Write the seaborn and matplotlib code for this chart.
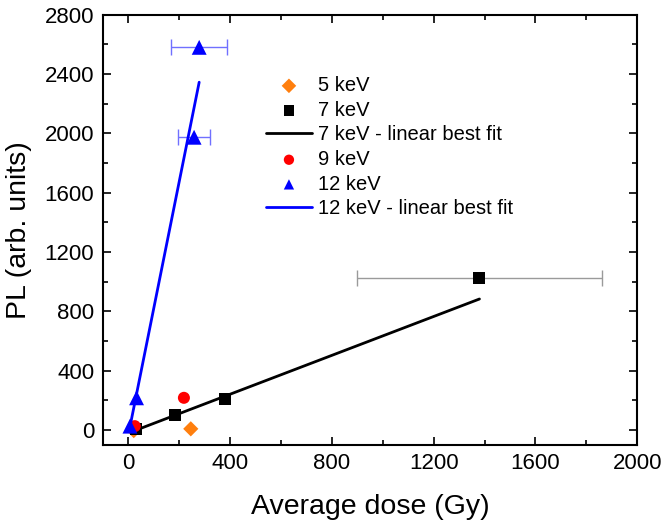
import matplotlib
matplotlib.use("Agg")
import matplotlib.pyplot as plt
import seaborn as sns
import pandas as pd
from matplotlib.ticker import MultipleLocator

# ---- data ----
kev5_x = [22, 246]
kev5_y = [-3, 9]

kev7_x = [30, 184, 381, 1380]
kev7_y = [9, 101, 211, 1023]
kev7_xerr = [0, 0, 0, 481]

fit7_x = [20, 1380]
fit7_y = [-7, 884]

kev9_x = [26, 219]
kev9_y = [27, 218]

kev12_x = [7, 33, 259, 279]
kev12_y = [27, 218, 1974, 2580]
kev12_xerr = [0, 0, 62, 111]

fit12_x = [5, 279]
fit12_y = [5, 2345]

sns.set_theme(style="ticks")
plt.rcParams['font.family'] = ['Liberation Sans', 'DejaVu Sans']
plt.rcParams['text.color'] = 'black'

fig = plt.figure(figsize=(6.64, 5.26), dpi=100)
ax = fig.add_axes([102.7/664, 1-445/526, (637.3-102.7)/664, (445-14.7)/526])

# error bars
ax.errorbar(kev7_x[3:], kev7_y[3:], xerr=kev7_xerr[3:], fmt='none',
            ecolor='#9a9a9a', elinewidth=1, capsize=5.5, capthick=1, zorder=1)
ax.errorbar(kev12_x[2:], kev12_y[2:], xerr=kev12_xerr[2:], fmt='none',
            ecolor='#7070ff', elinewidth=1, capsize=5.5, capthick=1, zorder=1)

ms = 75
sns.scatterplot(x=kev5_x, y=kev5_y, marker='D', color='#ff7f0e', s=60,
                edgecolor='none', label='5 keV', ax=ax, zorder=3)
sns.scatterplot(x=kev7_x, y=kev7_y, marker='s', color='black', s=ms,
                edgecolor='none', label='7 keV', ax=ax, zorder=3)
sns.lineplot(x=fit7_x, y=fit7_y, color='black', lw=2, label='7 keV - linear best fit',
             ax=ax, zorder=2)
sns.scatterplot(x=kev9_x, y=kev9_y, marker='o', color='#ff0000', s=ms,
                edgecolor='none', label='9 keV', ax=ax, zorder=3)
sns.scatterplot(x=kev12_x, y=kev12_y, marker='^', color='#0000ff', s=115,
                edgecolor='none', label='12 keV', ax=ax, zorder=3)
sns.lineplot(x=fit12_x, y=fit12_y, color='#0000ff', lw=2, label='12 keV - linear best fit',
             ax=ax, zorder=4)

ax.set_xlim(-100, 2000)
ax.set_ylim(-100, 2800)
ax.xaxis.set_major_locator(MultipleLocator(400))
ax.xaxis.set_minor_locator(MultipleLocator(200))
ax.yaxis.set_major_locator(MultipleLocator(400))
ax.yaxis.set_minor_locator(MultipleLocator(200))
ax.tick_params(which='both', direction='in', top=True, right=True, width=1.2, color='black')
ax.tick_params(which='major', length=6, labelsize=16, pad=6, labelcolor='black')
ax.tick_params(which='minor', length=3.5)
for s in ax.spines.values():
    s.set_linewidth(1.5)
    s.set_color('black')

ax.set_xlabel('Average dose (Gy)', fontsize=20.5, labelpad=14, color='black')
ax.set_ylabel('PL (arb. units)', fontsize=20.5, labelpad=9, color='black')

leg = ax.legend(loc='upper left', bbox_to_anchor=(0.29, 0.876), frameon=False,
                fontsize=14.5, handlelength=2.3, handletextpad=0.3, labelspacing=0.28,
                borderaxespad=0, labelcolor='black')
for h in leg.legend_handles:
    try:
        h.set_sizes([55])
    except Exception:
        pass

fig.savefig('out.png', dpi=100)
